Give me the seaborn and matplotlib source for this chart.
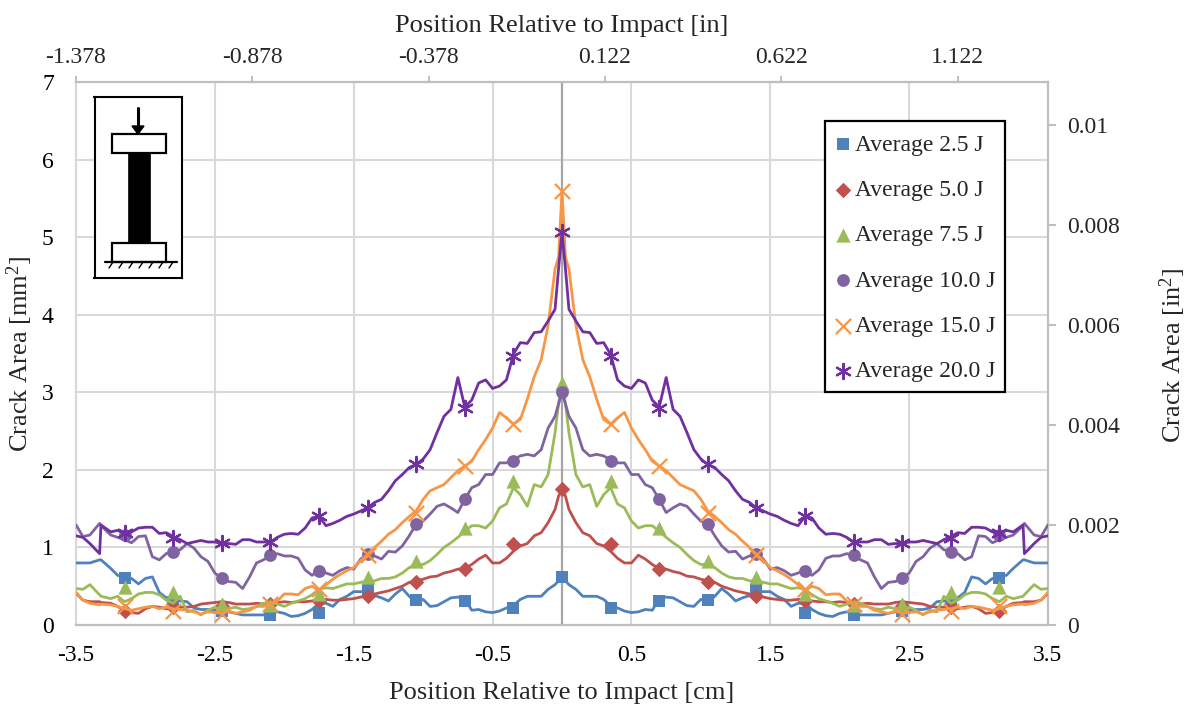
import numpy as np
import pandas as pd
import matplotlib
matplotlib.use("Agg")
import matplotlib.pyplot as plt
from matplotlib.patches import Rectangle, Polygon
import seaborn as sns

# half-profile position (cm); the averaged profile is symmetric about the impact
pos_half = [-3.5,-3.45,-3.4,-3.33,-3.32,-3.25,-3.2,-3.15,-3.1,-3.05,-3.0,-2.95,-2.9,-2.85,-2.8,-2.75,-2.7,-2.65,-2.6,-2.55,
            -2.5,-2.45,-2.4,-2.35,-2.3,-2.25,-2.2,-2.15,-2.1,-2.05,-2.0,-1.95,-1.9,-1.85,-1.8,-1.75,-1.7,-1.65,-1.6,-1.55,
            -1.5,-1.45,-1.4,-1.35,-1.3,-1.25,-1.2,-1.15,-1.1,-1.05,-1.0,-0.95,-0.9,-0.85,-0.8,-0.75,-0.7,-0.65,-0.6,-0.55,
            -0.5,-0.45,-0.4,-0.35,-0.3,-0.25,-0.2,-0.15,-0.1,-0.05,-0.025,0.0]

j25 = [.80,.80,.80,.84,.84,.73,.64,.62,.60,.53,.60,.62,.42,.35,.32,.31,.30,.22,.20,.20,
       .19,.17,.17,.15,.13,.13,.13,.13,.15,.17,.15,.11,.12,.15,.20,.28,.28,.24,.33,.37,
       .43,.43,.43,.38,.35,.31,.40,.47,.37,.29,.33,.24,.25,.30,.35,.36,.34,.19,.20,.17,
       .16,.18,.22,.25,.33,.37,.37,.37,.46,.52,.57,.62]
j50 = [.41,.32,.30,.30,.29,.28,.24,.19,.16,.15,.21,.24,.23,.21,.21,.23,.23,.24,.27,.28,
       .29,.30,.29,.27,.27,.27,.28,.27,.28,.29,.30,.29,.30,.30,.31,.33,.33,.32,.32,.33,
       .34,.36,.37,.40,.42,.44,.47,.50,.55,.57,.59,.62,.63,.67,.69,.72,.73,.78,.85,.90,
       .80,.80,.86,.95,1.02,1.05,1.15,1.19,1.32,1.49,1.66,1.75]
j75 = [.47,.46,.52,.39,.37,.34,.37,.30,.34,.40,.42,.42,.39,.32,.28,.37,.17,.19,.13,.19,
       .23,.19,.21,.23,.20,.21,.24,.28,.29,.27,.24,.28,.31,.34,.39,.46,.48,.47,.50,.53,
       .53,.55,.57,.57,.60,.60,.62,.67,.74,.78,.78,.83,.91,1.0,1.06,1.13,1.21,1.28,1.28,1.25,
       1.34,1.51,1.56,1.77,1.68,1.53,1.81,1.78,1.94,2.48,2.85,3.12]
j100 = [1.29,1.14,1.16,1.31,1.28,1.16,1.13,1.10,1.06,1.14,1.15,.88,.84,.92,.95,.97,1.05,.99,.88,.82,
        .67,.60,.56,.55,.47,.62,.80,.84,.90,.92,.89,.89,.86,.71,.64,.71,.67,.64,.70,.74,
        .72,.85,.91,.89,.85,.95,.94,1.02,1.15,1.30,1.34,1.43,1.53,1.56,1.51,1.45,1.62,1.77,1.81,1.94,
        1.94,2.09,2.09,2.13,2.18,2.20,2.18,2.26,2.54,2.69,2.85,3.0]
j150 = [.42,.32,.28,.26,.27,.26,.24,.21,.19,.21,.23,.24,.21,.23,.21,.20,.19,.17,.14,.17,
        .16,.15,.18,.15,.17,.19,.24,.24,.27,.31,.40,.40,.39,.47,.50,.44,.52,.59,.65,.70,
        .74,.83,.91,1.0,1.08,1.17,1.23,1.32,1.40,1.47,1.62,1.73,1.77,1.81,1.90,1.99,2.05,2.11,2.26,2.39,
        2.54,2.74,2.67,2.59,2.65,2.91,3.2,3.42,3.86,4.59,4.74,5.6]
j200 = [1.15,1.13,1.05,.92,1.29,1.20,1.22,1.18,1.20,1.25,1.26,1.26,1.18,1.19,1.14,1.10,1.05,1.07,1.09,1.07,
        1.07,1.05,1.05,1.04,1.10,1.10,1.07,1.07,1.07,1.13,1.17,1.18,1.17,1.25,1.38,1.40,1.28,1.31,1.35,1.40,
        1.43,1.47,1.51,1.58,1.62,1.73,1.86,1.94,2.03,2.07,2.14,2.26,2.48,2.69,2.78,3.19,2.81,2.9,3.12,3.16,
        3.05,3.08,3.16,3.49,3.64,3.63,3.77,3.78,3.92,4.07,4.59,5.06]

# marker series (sampled every 0.35 cm)
mark_half = [-3.15,-2.8,-2.45,-2.1,-1.75,-1.4,-1.05,-0.7,-0.35,0.0]
m25 = [.61,.30,.18,.13,.16,.45,.32,.31,.22,.62]
m50 = [.18,.23,.25,.27,.31,.37,.55,.72,1.04,1.75]
m75 = [.49,.43,.27,.26,.40,.62,.82,1.25,1.85,3.12]
m100 = [1.16,.94,.60,.90,.70,.91,1.30,1.62,2.12,3.0]
m150 = [.24,.18,.14,.27,.46,.90,1.45,2.05,2.59,5.6]
m200 = [1.18,1.12,1.06,1.07,1.40,1.51,2.08,2.80,3.47,5.06]

labels = ["Average 2.5 J","Average 5.0 J","Average 7.5 J","Average 10.0 J","Average 15.0 J","Average 20.0 J"]
line_sets = [j25,j50,j75,j100,j150,j200]
mark_sets = [m25,m50,m75,m100,m150,m200]
colors = ["#4F81BD","#C0504D","#9BBB59","#8064A2","#F79646","#7030A0"]
markers = ["s","D","^","o","x",(6,2,0)]
sizes = [68,62,105,85,120,120]

def mirror(v, sign=1):
    v = np.asarray(v, float)
    return np.r_[v, sign*v[-2::-1]]

sns.set_theme(style="white")
plt.rcParams["font.family"] = ["Liberation Serif", "DejaVu Serif"]
plt.rcParams["mathtext.fontset"] = "custom"
plt.rcParams["mathtext.rm"] = "Liberation Serif"
plt.rcParams["mathtext.default"] = "rm"
W, H = 1190, 709
fig = plt.figure(figsize=(W/100, H/100), dpi=100)
L, R, T, B = 76, 1048, 82, 625
ax = fig.add_axes([L/W, 1-B/H, (R-L)/W, (B-T)/H])

grid = "#D9D9D9"; axc = "#BFBFBF"
ax.set_axisbelow(True)
ax.grid(True, color=grid, lw=1.5)
ax.axvline(0, color="#A6A6A6", lw=1.6, zorder=1)

x_line = mirror(pos_half, -1)
x_mark = mirror(mark_half, -1)
for i in range(6):
    df = pd.DataFrame({"x": x_line, "y": mirror(line_sets[i])})
    sns.lineplot(data=df, x="x", y="y", color=colors[i], lw=2.0, estimator=None, sort=False,
                 ax=ax, zorder=3+i, legend=False)
    dm = pd.DataFrame({"x": x_mark, "y": mirror(mark_sets[i])})
    kw = {"linewidth": 1.6} if i >= 4 else {"edgecolor": colors[i], "linewidth": 0}
    sns.scatterplot(data=dm, x="x", y="y", marker=markers[i], color=colors[i], s=sizes[i],
                    ax=ax, zorder=3+i, label=labels[i], clip_on=False, **kw)

ax.set_xlim(-3.5, 3.5)
ax.set_ylim(0, 7)
xt = [-3.5,-2.5,-1.5,-0.5,0.5,1.5,2.5,3.5]
ax.set_xticks(xt)
ax.set_xticklabels(["-3.5","-2.5","-1.5","-0.5","0.5","1.5","2.5","3.5"])
ax.set_yticks(range(8))
fs = 17; fl = 19
ax.tick_params(axis="x", labelsize=fs, length=0, pad=14.5, colors="black")
ax.tick_params(axis="y", labelsize=fs, length=0, pad=16, colors="black")
ax.set_xlabel("Position Relative to Impact [cm]", fontsize=fl, labelpad=11.5)
ax.set_ylabel("Crack Area [mm$^2$]", fontsize=fl)
ax.yaxis.set_label_coords((35-L)/(R-L), (B-353.5)/(B-T))
for n, s in ax.spines.items():
    s.set_color(grid if n == "left" else axc); s.set_linewidth(1.6)

axr = ax.twinx()
axr.set_ylim(0, 7*0.00155)
axr.set_yticks([0,.002,.004,.006,.008,.01])
axr.set_yticklabels(["0","0.002","0.004","0.006","0.008","0.01"])
axr.tick_params(axis="y", labelsize=fs, length=5.8, width=1.5, color=axc, pad=8.2)
axr.set_ylabel("Crack Area [in$^2$]", fontsize=fl)
axr.yaxis.set_label_coords((1158-L)/(R-L), (B-355)/(B-T))
axr.grid(False)

axt = ax.twiny()
axt.set_xlim(-3.5/2.54, 3.5/2.54)
tt = [-1.378,-0.878,-0.378,0.122,0.622,1.122]
axt.set_xticks(tt)
axt.set_xticklabels(["-1.378","-0.878","-0.378","0.122","0.622","1.122"])
axt.tick_params(axis="x", labelsize=fs, length=4, width=1.4, color=axc, pad=6)
axt.set_xlabel("Position Relative to Impact [in]", fontsize=fl, labelpad=11)
axt.grid(False)
for a in (axr, axt):
    for s in a.spines.values():
        s.set_visible(False)

# legend frame with the reference's margins, entries laid over it
ax.add_patch(Rectangle(((824.5-L)/(R-L), (B-391.5)/(B-T)), 180/(R-L), 271/(B-T), transform=ax.transAxes,
                       fc="white", ec="black", lw=1.6, zorder=19, clip_on=False))
leg = ax.legend(loc="upper left", bbox_to_anchor=((831-L)/(R-L), (B-134)/(B-T)), fontsize=fs,
                frameon=False, labelspacing=1.01, handlelength=1.0, handletextpad=0.0,
                borderpad=0, borderaxespad=0)
leg.set_zorder(20)
ax.set_zorder(2)
axr.set_zorder(1); axt.set_zorder(1)

# loading schematic, in pixel-like coordinates of its own box
ins = fig.add_axes([94.5/W, 1-278.5/H, 87/W, 181.5/H], zorder=30)
ins.set_xlim(94.5, 181.5); ins.set_ylim(278.5, 97)
ins.set_xticks([]); ins.set_yticks([])
for s in ins.spines.values():
    s.set_color("black"); s.set_linewidth(1.5); s.set_visible(True)
ins.add_patch(Rectangle((112,134),54,19,fc="white",ec="black",lw=1.6))
ins.add_patch(Rectangle((128,153),22,90,fc="black",ec="black",lw=0.5))
ins.add_patch(Rectangle((112,243),54,19,fc="white",ec="black",lw=1.6))
ins.plot([138,138],[108,127],color="black",lw=2.2)
ins.add_patch(Polygon([[132,126],[144,126],[138,134]],fc="black",ec="black"))
ins.plot([105,177],[262,262],color="black",lw=1.6)
for hx in [113,123,133,143,153,163,173]:
    ins.plot([hx,hx-4],[262,268],color="black",lw=1)

fig.savefig("out.png", dpi=100, facecolor="white")
